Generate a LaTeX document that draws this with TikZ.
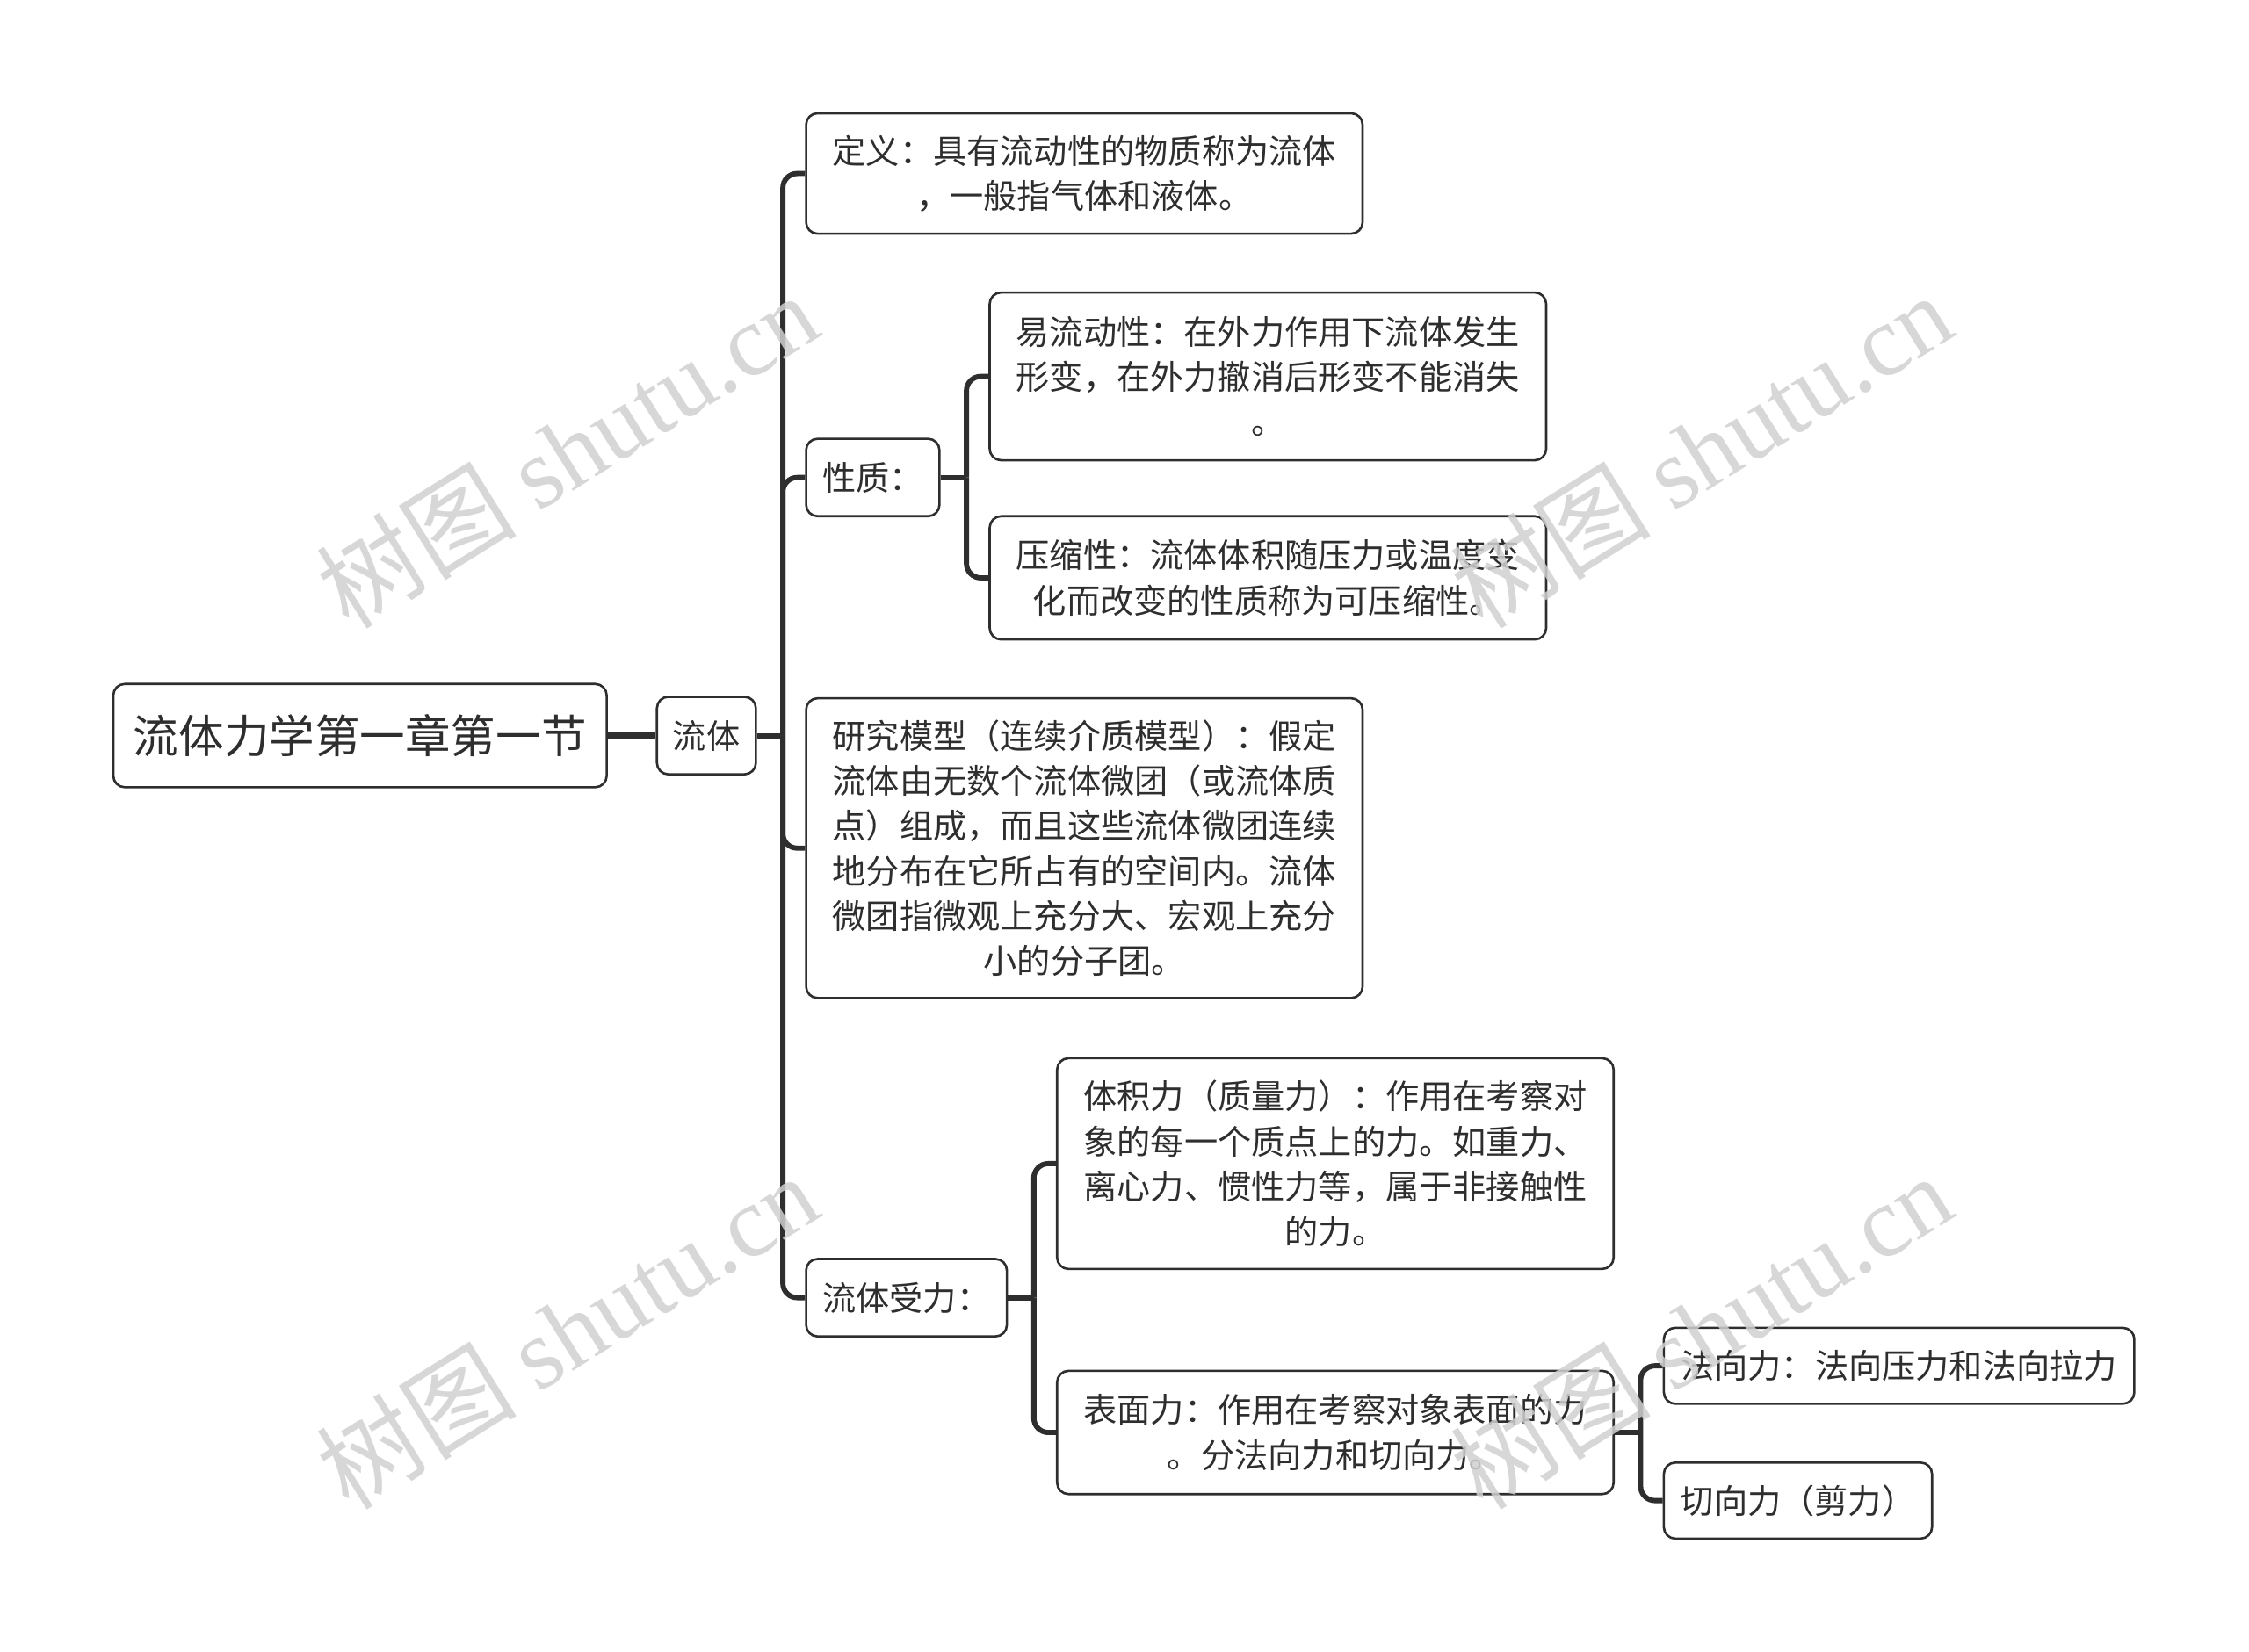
\documentclass[tikz,border=0pt]{standalone}
\usepackage{fontspec}
\setmainfont{Noto Sans CJK SC}
\newfontfamily\cjkfont{Noto Sans CJK SC}
\newfontfamily\wmlatin{Liberation Serif}
\definecolor{ink}{HTML}{2E2E2E}
\definecolor{wm}{HTML}{D0D0D0}
\tikzset{
  box/.style={draw=ink, line width=0.8pt, rounded corners=4pt, fill=white, text=ink,
    align=center, inner sep=0pt, font=\fontsize{11.7pt}{15.7pt}\selectfont},
  conn/.style={draw=ink, line width=1.8pt, rounded corners=5pt},
  wmark/.style={text=wm, rotate=32, font=\fontsize{35pt}{38pt}\selectfont, opacity=0.85}
}
\begin{document}
\begin{tikzpicture}[x=0.5pt,y=-0.5pt]
\useasboundingbox (0,0) rectangle (1568,1152);
% nodes
\node[box, minimum width=172pt, minimum height=36pt, font=\fontsize{15.8pt}{19pt}\selectfont] (root) at (251,513) {流体力学第一章第一节};
\node[box, minimum width=34.5pt, minimum height=27pt] (fl) at (492.5,513) {流体};
\node[box, minimum width=194pt, minimum height=42pt] (def) at (756,121) {定义：具有流动性的物质称为流体\\，一般指气体和液体。};
\node[box, minimum width=46.5pt, minimum height=27pt] (xz) at (608.5,333) {性质：};
\node[box, minimum width=194pt, minimum height=58.5pt] (ld) at (884,262.5) {易流动性：在外力作用下流体发生\\形变，在外力撤消后形变不能消失\\。};
\node[box, minimum width=194pt, minimum height=43pt] (ys) at (884,403) {压缩性：流体体积随压力或温度变\\化而改变的性质称为可压缩性。};
\node[box, minimum width=194pt, minimum height=104.5pt] (mx) at (756,591.5) {研究模型（连续介质模型）：假定\\流体由无数个流体微团（或流体质\\点）组成，而且这些流体微团连续\\地分布在它所占有的空间内。流体\\微团指微观上充分大、宏观上充分\\小的分子团。};
\node[box, minimum width=70pt, minimum height=27pt] (sl) at (632,905) {流体受力：};
\node[box, minimum width=194pt, minimum height=73.5pt] (tj) at (931,811.5) {体积力（质量力）：作用在考察对\\象的每一个质点上的力。如重力、\\离心力、惯性力等，属于非接触性\\的力。};
\node[box, minimum width=194pt, minimum height=43pt] (bm) at (931,999) {表面力：作用在考察对象表面的力\\。分法向力和切向力。};
\node[box, minimum width=164pt, minimum height=26.5pt] (fx) at (1324,952.5) {法向力：法向压力和法向拉力};
\node[box, minimum width=93.5pt, minimum height=26.5pt] (qx) at (1253.5,1046.5) {切向力（剪力）};
% connectors
\draw[conn, line width=2.2pt] (root.east) -- (fl.west);
\draw[conn] (fl.east) -- ++(18,0) coordinate (j1);
\draw[conn] (j1) |- (def.west);
\draw[conn] (j1) |- (xz.west);
\draw[conn] (j1) |- (mx.west);
\draw[conn] (j1) |- (sl.west);
\draw[conn] (xz.east) -- ++(18,0) coordinate (j2);
\draw[conn] (j2) |- (ld.west);
\draw[conn] (j2) |- (ys.west);
\draw[conn] (sl.east) -- ++(18,0) coordinate (j3);
\draw[conn] (j3) |- (tj.west);
\draw[conn] (j3) |- (bm.west);
\draw[conn] (bm.east) -- ++(18,0) coordinate (j4);
\draw[conn] (j4) |- (fx.west);
\draw[conn] (j4) |- (qx.west);
% watermarks
\node[wmark] (w1) at (395,314) {{\cjkfont 树图} {\wmlatin shutu.cn}};
\node[wmark] (w2) at (1186,314) {{\cjkfont 树图} {\wmlatin shutu.cn}};
\node[wmark] (w3) at (395,928) {{\cjkfont 树图} {\wmlatin shutu.cn}};
\node[wmark] (w4) at (1186,928) {{\cjkfont 树图} {\wmlatin shutu.cn}};
\end{tikzpicture}
\end{document}
